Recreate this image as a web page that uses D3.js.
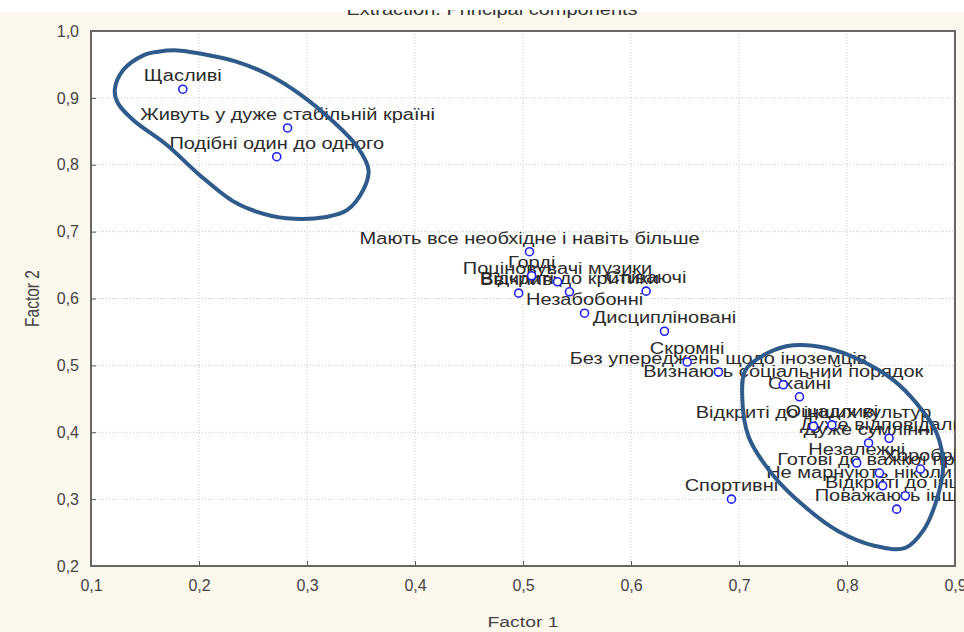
<!DOCTYPE html>
<html>
<head>
<meta charset="utf-8">
<script src="https://cdn.jsdelivr.net/npm/d3@7"></script>
<style>
html,body{margin:0;padding:0;background:#fcf8ee;}
svg{display:block;}
</style>
</head>
<body>
<svg id="chart" width="964" height="632"></svg>
<script>
// ---- data ----
const labels = [
  "Щасливі","Живуть у дуже стабільній країні","Подібні один до одного",
  "Мають все необхідне і навіть більше","Горді","Поціновувачі музики",
  "Ввічливі","Відкриті до критики","Співаючі","Незабобонні","Дисципліновані",
  "Скромні","Без упереджень щодо іноземців","Визнають соціальний порядок","Охайні",
  "Відкриті до інших культур","Ощадливі","Дуже відповідальні","Дуже сумлінні",
  "Незалежні","Готові до важкої праці","Хоробрі","Не марнують ніколи часу",
  "Відкриті до інших","Поважають інших","Спортивні"
];
const factor1 = [0.185,0.282,0.272,0.506,0.508,0.532,0.496,0.543,0.614,0.557,0.631,
  0.652,0.681,0.741,0.756,0.769,0.786,0.839,0.820,0.809,0.830,0.868,0.833,0.854,0.846,0.693];
const factor2 = [0.913,0.855,0.812,0.670,0.634,0.625,0.608,0.610,0.611,0.578,0.551,
  0.505,0.490,0.471,0.453,0.409,0.411,0.391,0.384,0.354,0.339,0.345,0.320,0.305,0.285,0.300];
const xTicks = [0.1,0.2,0.3,0.4,0.5,0.6,0.7,0.8,0.9];
const yTicks = [0.2,0.3,0.4,0.5,0.6,0.7,0.8,0.9,1.0];
// hand-drawn group outlines (in factor units)
const blobLeftX = [0.122,0.130,0.149,0.162,0.180,0.202,0.233,0.264,0.294,0.324,0.347,0.357,0.352,0.337,0.318,0.281,0.253,0.231,0.201,0.170,0.139,0.125];
const blobLeftY = [0.912,0.942,0.964,0.969,0.971,0.966,0.955,0.935,0.905,0.865,0.826,0.792,0.762,0.732,0.722,0.720,0.730,0.746,0.784,0.830,0.867,0.892];
const blobRightX = [0.703,0.706,0.726,0.750,0.781,0.812,0.843,0.864,0.883,0.889,0.883,0.871,0.854,0.826,0.792,0.760,0.731,0.709];
const blobRightY = [0.453,0.493,0.518,0.530,0.526,0.508,0.478,0.444,0.399,0.348,0.299,0.254,0.227,0.230,0.252,0.290,0.337,0.393];

const W = 964, H = 632;
const m = {left:91, right:955, top:31, bottom:566};
const SX = 1.25; // horizontal stretch of the reference's lettering
const svg = d3.select("#chart");
const x = d3.scaleLinear().domain([0.1,0.9]).range([m.left,m.right]);
const y = d3.scaleLinear().domain([0.2,1.0]).range([m.bottom,m.top]);
const fmt = d => d3.format(".1f")(d).replace(".", ",");

// top white strip and partially hidden title
svg.append("rect").attr("x",0).attr("y",0).attr("width",W).attr("height",12).attr("fill","#ffffff");
const defs = svg.append("defs");
defs.append("clipPath").attr("id","titleclip")
  .append("rect").attr("x",0).attr("y",10).attr("width",W).attr("height",20);
svg.append("g").attr("clip-path","url(#titleclip)")
  .append("text").attr("transform",`translate(492,15) scale(${SX},1)`).attr("text-anchor","middle")
  .attr("font-family","Liberation Sans, Arial, sans-serif").attr("font-size",16).attr("fill","#333")
  .text("Extraction: Principal components");

// plot area
svg.append("rect").attr("x",m.left).attr("y",m.top).attr("width",m.right-m.left).attr("height",m.bottom-m.top).attr("fill","#ffffff");
defs.append("clipPath").attr("id","plotclip")
  .append("rect").attr("x",m.left).attr("y",m.top).attr("width",m.right-m.left).attr("height",m.bottom-m.top);

// grid
const grid = svg.append("g");
grid.selectAll(".gx").data(xTicks.slice(1,-1)).enter().append("line")
  .attr("x1",d=>x(d)).attr("x2",d=>x(d)).attr("y1",m.top).attr("y2",m.bottom)
  .attr("stroke","#c8c8c8").attr("stroke-width",1).attr("stroke-dasharray","1,2");
grid.selectAll(".gy").data(yTicks.slice(1,-1)).enter().append("line")
  .attr("y1",d=>y(d)).attr("y2",d=>y(d)).attr("x1",m.left).attr("x2",m.right)
  .attr("stroke","#c8c8c8").attr("stroke-width",1).attr("stroke-dasharray","1,2");

// axes
const axB = svg.append("g").attr("transform",`translate(0,${m.bottom})`)
  .call(d3.axisBottom(x).tickValues(xTicks).tickFormat(fmt).tickSizeInner(-5).tickSizeOuter(0).tickPadding(14));
const axL = svg.append("g").attr("transform",`translate(${m.left},0)`)
  .call(d3.axisLeft(y).tickValues(yTicks).tickFormat(fmt).tickSizeInner(-5).tickSizeOuter(0).tickPadding(12));
[axB,axL].forEach(a=>{
  a.select(".domain").remove();
  a.selectAll("line").attr("stroke","#555");
  a.selectAll("text").attr("font-family","Liberation Sans Narrow, Liberation Sans, Arial, sans-serif")
    .attr("font-size",16).attr("fill","#444");
});
// frame
svg.append("rect").attr("x",m.left).attr("y",m.top).attr("width",m.right-m.left).attr("height",m.bottom-m.top)
  .attr("fill","none").attr("stroke","#666").attr("stroke-width",2);

// axis titles
svg.append("text").attr("transform",`translate(${(m.left+m.right)/2},627) scale(${SX},1)`).attr("text-anchor","middle")
  .attr("font-family","Liberation Sans, Arial, sans-serif").attr("font-size",15.5).attr("fill","#444").text("Factor 1");
svg.append("text").attr("transform",`translate(39,${(m.top+m.bottom)/2}) rotate(-90) scale(1,${SX})`).attr("text-anchor","middle")
  .attr("font-family","Liberation Sans, Arial, sans-serif").attr("font-size",15.5).attr("fill","#444").text("Factor 2");

// points & labels
const pts = labels.map((l,i)=>({l, fx:factor1[i], fy:factor2[i]}));
const pg = svg.append("g").attr("clip-path","url(#plotclip)");
pg.selectAll("text.lbl").data(pts).enter().append("text").attr("class","lbl")
  .attr("transform",d=>`translate(${x(d.fx)},${y(d.fy)-8}) scale(${SX},1)`).attr("text-anchor","middle")
  .attr("font-family","Liberation Sans, Arial, sans-serif").attr("font-size",16).attr("fill","#2b2b2b")
  .text(d=>d.l);
pg.selectAll("circle").data(pts).enter().append("circle")
  .attr("cx",d=>x(d.fx)).attr("cy",d=>y(d.fy)).attr("r",4)
  .attr("fill","#fff").attr("stroke","#2020ff").attr("stroke-width",1.6);

// group outlines
const line = d3.line().x(d=>x(d[0])).y(d=>y(d[1])).curve(d3.curveCatmullRomClosed.alpha(0.5));
[[blobLeftX,blobLeftY],[blobRightX,blobRightY]].forEach(([bx,by])=>{
  svg.append("path").datum(bx.map((v,i)=>[v,by[i]])).attr("d",line)
    .attr("fill","none").attr("stroke","#2f5a8c").attr("stroke-width",4);
});
</script>
</body>
</html>
